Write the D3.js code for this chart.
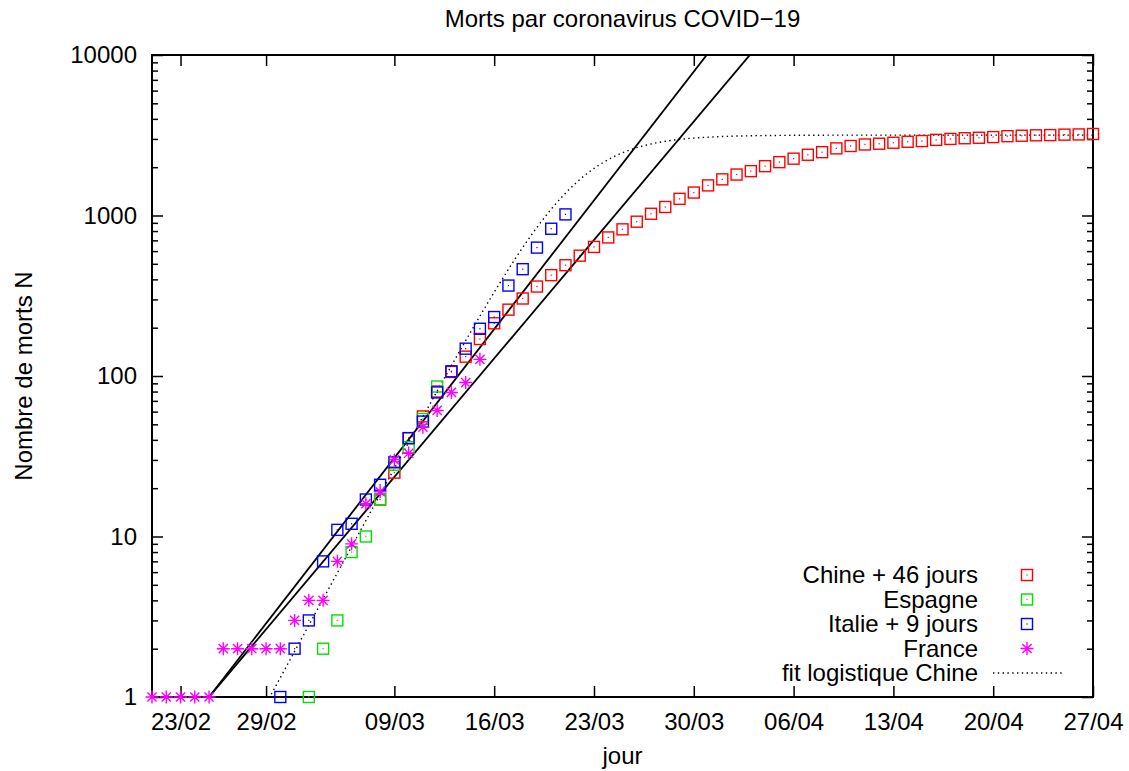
<!DOCTYPE html>
<html>
<head>
	<meta charset="utf-8">
	<title>Morts par coronavirus COVID-19</title>
	<script src="https://d3js.org/d3.v7.min.js"></script>
	<style>
		body { margin: 0; background: #fff; }
		svg text { font-family: "Liberation Sans", Arial, Helvetica, sans-serif; fill: #000; }
	</style>
</head>
<body>
<div id="chart"></div>
<script type="text/javascript">

	// data (deaths per day, first value at the start date)
	var chinaStart = "2020-03-08";   // Chine + 46 jours
	var chinaDeaths = [17, 25, 41, 56, 80, 106, 132, 170, 213, 259, 304, 361, 425, 490, 562, 637,
		730, 820, 915, 1025, 1130, 1270, 1390, 1540, 1680, 1800, 1890, 2030, 2150, 2260, 2390,
		2480, 2620, 2710, 2770, 2800, 2840, 2880, 2910, 2960, 3000, 3030, 3050, 3080, 3120,
		3140, 3160, 3170, 3190, 3200, 3220];
	var spainStart = "2020-03-03";
	var spainDeaths = [1, 2, 3, 8, 10, 17, 28, 36, 54, 86];
	var italyStart = "2020-03-01";   // Italie + 9 jours
	var italyDeaths = [1, 2, 3, 7, 11, 12, 17, 21, 29, 41, 52, 79, 107, 148, 197, 233, 366, 463, 631, 827, 1016];
	var franceStart = "2020-02-21";
	var franceDeaths = [1, 1, 1, 1, 1, 2, 2, 2, 2, 2, 3, 4, 4, 7, 9, 16, 19, 30, 33, 48, 61, 79, 91, 127];

	// exponential fits (N = 10^(rate * days since start)) and logistic fit of China
	var expFitStart = "2020-02-25";
	var expFitRates = [0.1146, 0.10546];
	var logisticK = 3170, logisticRate = 0.376, logisticMid = "2020-03-21", logisticMidFrac = 0.7;

	var xTickDates = ["2020-02-23", "2020-02-29", "2020-03-09", "2020-03-16", "2020-03-23",
		"2020-03-30", "2020-04-06", "2020-04-13", "2020-04-20", "2020-04-27"];
	var yTickValues = [1, 10, 100, 1000, 10000];
	var legendLabels = ["Chine + 46 jours", "Espagne", "Italie + 9 jours", "France", "fit logistique Chine"];

	var W = 1129, H = 771;
	var plotL = 152, plotR = 1093, plotT = 55, plotB = 697;
	var parse = d3.utcParse("%Y-%m-%d");
	var DAY = 864e5;

	var x = d3.scaleUtc()
		.domain([parse("2020-02-21"), parse("2020-04-27")])
		.range([plotL, plotR]);
	var y = d3.scaleLog()
		.domain([1, 10000])
		.range([plotB, plotT]);

	var svg = d3.select("#chart").append("svg")
		.attr("width", W)
		.attr("height", H)
		.style("font-size", "24px");

	svg.append("defs").append("clipPath").attr("id", "plot")
		.append("rect")
		.attr("x", plotL).attr("y", plotT)
		.attr("width", plotR - plotL).attr("height", plotB - plotT);

	// minor y ticks 2..9 of every decade
	var minorY = [];
	for (var dec = 1; dec < 10000; dec *= 10)
		for (var m = 2; m < 10; m++) minorY.push(dec * m);

	var xDates = xTickDates.map(parse);
	var fmt = d3.utcFormat("%d/%m");

	var axes = svg.append("g");
	axes.append("g").attr("transform", "translate(0," + plotB + ")")
		.call(d3.axisBottom(x).tickValues(xDates).tickFormat(fmt).tickSize(-11).tickPadding(16));
	axes.append("g").attr("transform", "translate(0," + plotT + ")")
		.call(d3.axisTop(x).tickValues(xDates).tickFormat("").tickSize(-11));
	axes.append("g").attr("transform", "translate(" + plotL + ",0)")
		.call(d3.axisLeft(y).tickValues(yTickValues).tickFormat(d3.format("d")).tickSize(-11).tickPadding(15));
	axes.append("g").attr("transform", "translate(" + plotR + ",0)")
		.call(d3.axisRight(y).tickValues(yTickValues).tickFormat("").tickSize(-11));
	axes.append("g").attr("transform", "translate(" + plotL + ",0)")
		.call(d3.axisLeft(y).tickValues(minorY).tickFormat("").tickSize(-6));
	axes.append("g").attr("transform", "translate(" + plotR + ",0)")
		.call(d3.axisRight(y).tickValues(minorY).tickFormat("").tickSize(-6));

	axes.selectAll(".domain").remove();
	axes.selectAll(".tick line").attr("stroke", "#000").attr("stroke-width", 1.5);
	axes.selectAll(".tick text").attr("font-size", "24px").attr("font-family", null).attr("fill", "#000");

	svg.append("rect")
		.attr("x", plotL).attr("y", plotT)
		.attr("width", plotR - plotL).attr("height", plotB - plotT)
		.attr("fill", "none").attr("stroke", "#000").attr("stroke-width", 2);

	var plot = svg.append("g").attr("clip-path", "url(#plot)");

	// exponential fit lines
	var fitT0 = parse(expFitStart);
	var endT = x.domain()[1];
	expFitRates.forEach(function(rate) {
		var days = (endT - fitT0) / DAY;
		plot.append("line")
			.attr("x1", x(fitT0)).attr("y1", y(1))
			.attr("x2", x(endT)).attr("y2", y(Math.pow(10, rate * days)))
			.attr("stroke", "#000").attr("stroke-width", 1.8);
	});

	// logistic fit
	var mid = +parse(logisticMid) + logisticMidFrac * DAY;
	function logistic(t) {
		return logisticK / (1 + Math.exp(-logisticRate * (t - mid) / DAY));
	}
	var samples = d3.range(+x.domain()[0], +endT + 1, DAY / 8);
	var logLine = d3.line()
		.x(function(t) { return x(new Date(t)); })
		.y(function(t) { return y(logistic(t)); });
	plot.append("path")
		.attr("d", logLine(samples))
		.attr("fill", "none")
		.attr("stroke", "#000")
		.attr("stroke-width", 1.4)
		.attr("stroke-dasharray", "1.4 3.4");

	function points(start, values) {
		var t0 = parse(start);
		return values.map(function(v, i) { return { date: new Date(+t0 + i * DAY), value: v }; });
	}

	function square(g, color) {
		g.append("rect")
			.attr("x", -5.5).attr("y", -5.5).attr("width", 11).attr("height", 11)
			.attr("fill", "none").attr("stroke", color).attr("stroke-width", 1.4);
		g.append("rect")
			.attr("x", -0.6).attr("y", -0.6).attr("width", 1.2).attr("height", 1.2)
			.attr("fill", color);
	}
	function star(g, color) {
		g.append("path")
			.attr("d", "M-6.5,0H6.5M0,-6.5V6.5M-4.6,-4.6L4.6,4.6M-4.6,4.6L4.6,-4.6")
			.attr("stroke", color).attr("stroke-width", 1.4);
	}

	var series = [
		{ data: points(chinaStart, chinaDeaths), color: "#ff0000", mark: square },
		{ data: points(spainStart, spainDeaths), color: "#00e000", mark: square },
		{ data: points(italyStart, italyDeaths), color: "#0000ff", mark: square },
		{ data: points(franceStart, franceDeaths), color: "#ff00ff", mark: star }
	];

	// markers are not clipped (points on the frame stay whole)
	var marks = svg.append("g");
	series.forEach(function(s) {
		marks.append("g").selectAll("g")
			.data(s.data)
			.enter()
			.append("g")
			.attr("transform", function(d) { return "translate(" + x(d.date) + "," + y(d.value) + ")"; })
			.each(function() { s.mark(d3.select(this), s.color); });
	});

	// legend
	var legend = svg.append("g");
	legendLabels.forEach(function(label, i) {
		var ly = 575 + i * 24.5;
		legend.append("text")
			.attr("x", 978).attr("y", ly).attr("dy", "0.35em")
			.attr("text-anchor", "end")
			.text(label);
		if (i < 4) {
			var g = legend.append("g").attr("transform", "translate(1027," + ly + ")");
			series[i].mark(g, series[i].color);
		} else {
			legend.append("line")
				.attr("x1", 993).attr("x2", 1063).attr("y1", ly).attr("y2", ly)
				.attr("stroke", "#000").attr("stroke-width", 1.4)
				.attr("stroke-dasharray", "1.4 3.4");
		}
	});

	// titles
	svg.append("text")
		.attr("x", (plotL + plotR) / 2).attr("y", 27)
		.attr("text-anchor", "middle")
		.text("Morts par coronavirus COVID\u221219");
	svg.append("text")
		.attr("x", (plotL + plotR) / 2).attr("y", 764)
		.attr("text-anchor", "middle")
		.text("jour");
	svg.append("text")
		.attr("transform", "translate(32," + (plotT + plotB) / 2 + ") rotate(-90)")
		.attr("text-anchor", "middle")
		.text("Nombre de morts N");

</script>
</body>
</html>
